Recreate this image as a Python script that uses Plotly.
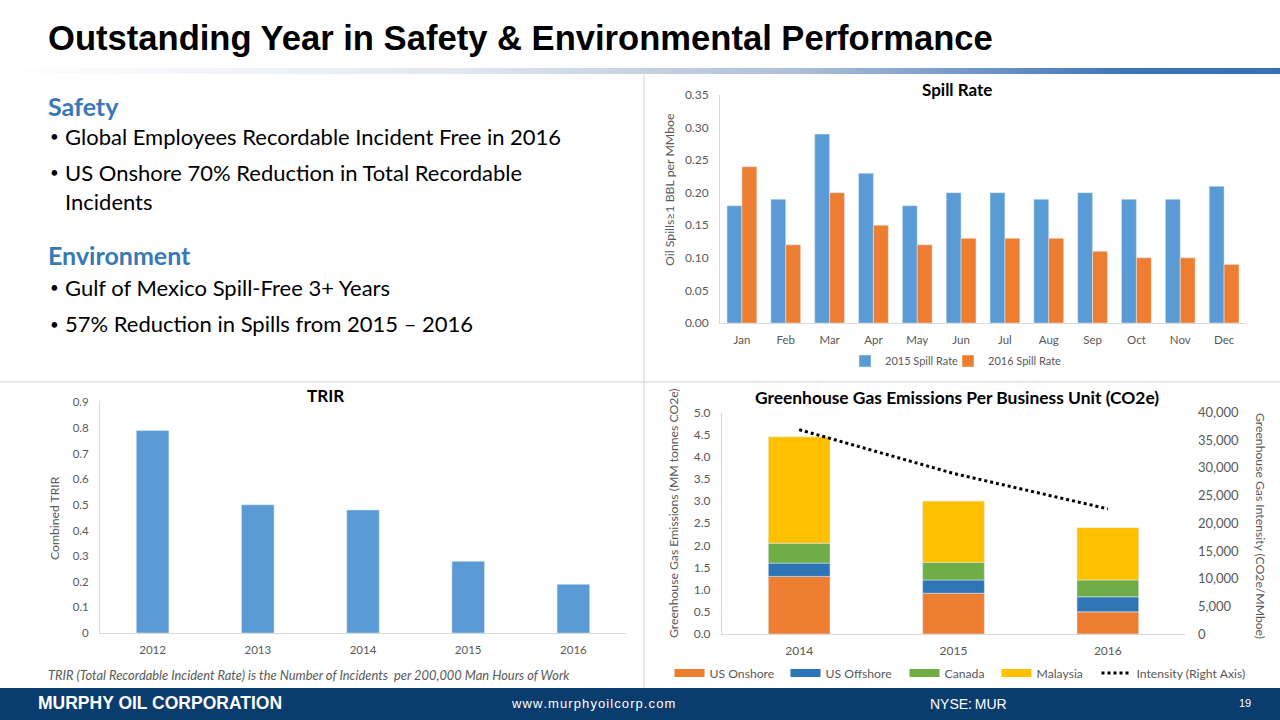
import base64
import numpy as np
import plotly.graph_objects as go

# ---------------- data ----------------
months = ["Jan", "Feb", "Mar", "Apr", "May", "Jun", "Jul", "Aug", "Sep", "Oct", "Nov", "Dec"]
spill_2015 = [0.18, 0.19, 0.29, 0.23, 0.18, 0.20, 0.20, 0.19, 0.20, 0.19, 0.19, 0.21]
spill_2016 = [0.24, 0.12, 0.20, 0.15, 0.12, 0.13, 0.13, 0.13, 0.11, 0.10, 0.10, 0.09]

trir_years = ["2012", "2013", "2014", "2015", "2016"]
trir_values = [0.79, 0.50, 0.48, 0.28, 0.19]

ghg_years = ["2014", "2015", "2016"]
ghg_us_onshore = [1.30, 0.92, 0.50]
ghg_us_offshore = [0.30, 0.30, 0.34]
ghg_canada = [0.45, 0.40, 0.38]
ghg_malaysia = [2.40, 1.38, 1.18]
ghg_intensity = [36900, 29000, 22600]

# ---------------- styling helpers ----------------
W, H = 1280, 720
def px(x):
    return x / W
def py(y):
    return 1 - y / H

GRAY = "#595959"
AXLINE = "#d9d9d9"
BODY_FONT = "Lato, Carlito, Calibri, sans-serif"

def tf(size):
    return dict(family=BODY_FONT, size=size, color=GRAY)

fig = go.Figure()

# ---------------- Spill rate ----------------
fig.add_trace(go.Bar(x=months, y=spill_2015, name="2015 Spill Rate", marker_color="#5b9bd5",
                     width=0.34, offset=-0.34, xaxis="x", yaxis="y", legend="legend",
                     legendwidth=58))
fig.add_trace(go.Bar(x=months, y=spill_2016, name="2016 Spill Rate", marker_color="#ed7d31",
                     width=0.34, offset=0.0, xaxis="x", yaxis="y", legend="legend"))

# ---------------- TRIR ----------------
fig.add_trace(go.Bar(x=trir_years, y=trir_values, name="TRIR", marker_color="#5b9bd5",
                     width=0.31, xaxis="x2", yaxis="y2", showlegend=False))

# ---------------- GHG ----------------
series = [("US Onshore", ghg_us_onshore, "#ed7d31", 71),
          ("US Offshore", ghg_us_offshore, "#2e75b6", 74),
          ("Canada", ghg_canada, "#70ad47", 47),
          ("Malaysia", ghg_malaysia, "#ffc000", 55)]
base = np.zeros(len(ghg_years))
for name, vals, col, lw in series:
    fig.add_trace(go.Bar(x=ghg_years, y=vals, base=base.copy(), name=name, marker_color=col,
                         width=0.40, xaxis="x3", yaxis="y3", showlegend=False))
    base = base + np.array(vals)
    # legend proxy with a wide swatch, like the original
    fig.add_trace(go.Scatter(x=[None], y=[None], name=name, mode="lines",
                             line=dict(color=col, width=8), xaxis="x3", yaxis="y3",
                             legend="legend2", legendwidth=lw, hoverinfo="skip"))
fig.add_trace(go.Scatter(x=ghg_years, y=ghg_intensity, name="Intensity (Right Axis)",
                         mode="lines", line=dict(color="black", width=3, dash="dot"),
                         xaxis="x3", yaxis="y4", legend="legend2"))

# ---------------- axes ----------------
def xax(domain, anchor, size=11):
    return dict(domain=domain, anchor=anchor, showgrid=False, zeroline=False,
                showline=True, linecolor=AXLINE, linewidth=1, tickfont=tf(size),
                ticks="", ticklabelstandoff=6, fixedrange=True, automargin=False)

def yax(domain, anchor, rng, dtick, fmt, size=11, side="left", overlaying=None, standoff=8):
    d = dict(domain=domain, anchor=anchor, range=rng, dtick=dtick, tickformat=fmt,
             showgrid=False, zeroline=False, showline=True, linecolor=AXLINE, linewidth=1,
             tickfont=tf(size), ticks="", ticklabelstandoff=standoff, side=side,
             fixedrange=True, automargin=False)
    if overlaying:
        d["overlaying"] = overlaying
    return d

layout = dict(
    width=W, height=H, margin=dict(l=0, r=0, t=0, b=0, pad=0, autoexpand=False),
    paper_bgcolor="white", plot_bgcolor="rgba(0,0,0,0)",
    barmode="overlay",
    xaxis=xax([px(720), px(1246)], "y", 11.5),
    yaxis=yax([py(323), py(95)], "x", [0, 0.35], 0.05, ".2f", 12),
    xaxis2=xax([px(100), px(626)], "y2", 11.5),
    yaxis2=yax([py(633), py(402.3)], "x2", [0, 0.9], 0.1, "", 11.5),
    xaxis3=xax([px(722), px(1185)], "y3", 12),
    yaxis3=yax([py(634), py(412.5)], "x3", [0, 5.0], 0.5, ".1f", 12),
    yaxis4=yax([py(634), py(412.5)], "x3", [0, 40000], 5000, ",", 13, side="right",
               overlaying="y3", standoff=12),
    legend=dict(orientation="h", x=px(956), xanchor="center", y=py(361), yanchor="middle",
                font=dict(family=BODY_FONT, size=11, color=GRAY), bgcolor="rgba(0,0,0,0)",
                itemwidth=30),
    legend2=dict(orientation="h", x=px(960), xanchor="center", y=py(673), yanchor="middle",
                 font=dict(family=BODY_FONT, size=12.2, color=GRAY), bgcolor="rgba(0,0,0,0)",
                 itemwidth=30),
    showlegend=True,
)
layout["yaxis2"]["tickvals"] = [0, 0.1, 0.2, 0.3, 0.4, 0.5, 0.6, 0.7, 0.8, 0.9]
layout["yaxis2"]["ticktext"] = ["0", "0.1", "0.2", "0.3", "0.4", "0.5", "0.6", "0.7", "0.8", "0.9"]
layout["yaxis4"]["showline"] = False
fig.update_layout(**layout)

# ---------------- gradient header bar (SVG image) ----------------
svg = ('<svg xmlns="http://www.w3.org/2000/svg" width="1280" height="6" preserveAspectRatio="none">'
       '<defs><linearGradient id="g" x1="0" y1="0" x2="1" y2="0">'
       '<stop offset="0" stop-color="#ffffff"/>'
       '<stop offset="0.35" stop-color="#e3e8f1"/>'
       '<stop offset="0.62" stop-color="#aebfd9"/>'
       '<stop offset="0.88" stop-color="#3d75ba"/>'
       '<stop offset="1" stop-color="#3670b7"/>'
       '</linearGradient></defs><rect width="1280" height="6" fill="url(#g)"/></svg>')
uri = "data:image/svg+xml;base64," + base64.b64encode(svg.encode()).decode()
fig.add_layout_image(dict(source=uri, xref="paper", yref="paper", x=0, y=py(68),
                          sizex=1, sizey=6 / H, sizing="stretch", xanchor="left",
                          yanchor="top", layer="below"))

# ---------------- shapes ----------------
fig.add_shape(type="line", xref="paper", yref="paper", x0=px(644), x1=px(644),
              y0=py(75), y1=py(688), line=dict(color="#d0d0d0", width=1))
fig.add_shape(type="line", xref="paper", yref="paper", x0=0, x1=1,
              y0=py(382), y1=py(382), line=dict(color="#d0d0d0", width=1))
fig.add_shape(type="rect", xref="paper", yref="paper", x0=0, x1=1,
              y0=0, y1=py(688), fillcolor="#0b3c6e", line=dict(width=0), layer="below")

# ---------------- texts ----------------
def ann(text, x, y, size, color="black", family=BODY_FONT, xanchor="center", bold=False,
        italic=False, angle=0):
    t = text
    if bold:
        t = "<b>" + t + "</b>"
    if italic:
        t = "<i>" + t + "</i>"
    fig.add_annotation(text=t, x=px(x), y=py(y), xref="paper", yref="paper",
                       xanchor=xanchor, yanchor="middle", showarrow=False, textangle=angle,
                       font=dict(size=size, color=color, family=family))

ann("Outstanding Year in Safety &amp; Environmental Performance", 46, 38, 34.6,
    family="Arial, Liberation Sans, sans-serif", xanchor="left", bold=True)

BLUE_HEAD = "#3878b8"
ann("Safety", 46, 106, 25, color=BLUE_HEAD, xanchor="left", bold=True)
ann("Environment", 46, 255, 25, color=BLUE_HEAD, xanchor="left", bold=True)
bullets = [("Global Employees Recordable Incident Free in 2016", 136, True),
           ("US Onshore 70% Reduction in Total Recordable", 172, True),
           ("Incidents", 201, False),
           ("Gulf of Mexico Spill-Free 3+ Years", 287, True),
           ("57% Reduction in Spills from 2015 – 2016", 324, True)]
for txt, yy, dot in bullets:
    if dot:
        ann("•", 48, yy, 15, xanchor="left")
    ann(txt, 63, yy, 22, xanchor="left")

# chart titles
ann("Spill Rate", 957, 89, 17, bold=True)
ann("TRIR", 325, 395, 17, bold=True)
ann("Greenhouse Gas Emissions Per Business Unit (CO2e)", 957, 397, 17.4, bold=True)

# axis titles
ann("Oil Spills≥1 BBL per MMboe", 670, 190, 12.3, color=GRAY, angle=-90)
ann("Combined TRIR", 54, 518, 12.2, color=GRAY, angle=-90)
ann("Greenhouse Gas Emissions (MM tonnes CO2e)", 673, 513, 12.2, color=GRAY, angle=-90)
ann("Greenhouse Gas Intensity (CO2e/MMboe)", 1261, 526, 12.2, color=GRAY, angle=90)

# footnote
ann("TRIR (Total Recordable Incident Rate) is the Number of Incidents  per 200,000 Man Hours of Work",
    46, 675, 12.9, color=GRAY, xanchor="left", italic=True)

# footer
FOOT = "Arial, Liberation Sans, sans-serif"
ann("MURPHY OIL CORPORATION", 36, 703, 17.5, color="white", family=FOOT, xanchor="left", bold=True)
ann("w w w . m u r p h y o i l c o r p . c o m".replace(" ", "\u200a"), 593, 703, 13,
    color="white", family=FOOT)
ann("NYSE:\u2009MUR", 968, 704, 14, color="white", family=FOOT)
ann("19", 1245, 703, 11, color="white", family=FOOT)

post = ("var d=document.getElementById('{plot_id}');"
        "d.style.position='fixed';d.style.left='0px';d.style.top='0px';"
        "document.body.style.margin='0';document.body.style.overflow='hidden';"
        "document.documentElement.style.overflow='hidden';")
fig.write_html("out.html", config={"displayModeBar": False}, post_script=post)
